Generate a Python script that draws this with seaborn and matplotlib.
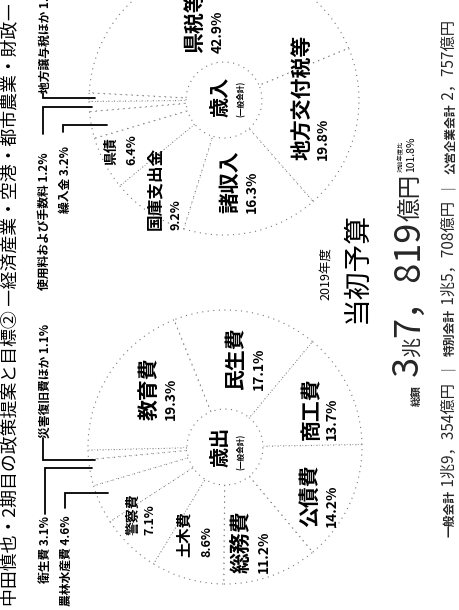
import matplotlib
matplotlib.use("Agg")
import matplotlib.pyplot as plt
import seaborn as sns

# ---------------- data ----------------
title = "中田慎也・2期目の政策提案と目標② ―経済産業・空港・都市農業・財政―"

exp_labels = ["商工費", "民生費", "教育費", "災害復旧費ほか", "衛生費", "農林水産費",
              "警察費", "土木費", "総務費", "公債費"]
exp_values = [13.7, 17.1, 19.3, 1.1, 3.1, 4.6, 7.1, 8.6, 11.2, 14.2]

rev_labels = ["県税等", "地方交付税等", "諸収入", "国庫支出金", "県債", "繰入金",
              "使用料および手数料", "地方譲与税ほか"]
rev_values = [42.9, 19.8, 16.3, 9.2, 6.4, 3.2, 1.2, 1.0]

fiscal_year = "2019年度"
budget_name = "当初予算"
total_cho = "3"
total_oku = "7，819"
yoy_ratio = 101.8
accounts = ["一般会計", "特別会計", "公営企業会計"]
account_amounts = ["1兆9，354億円", "1兆5，708億円", "2，757億円"]

# ---------------- style ----------------
sns.set_theme(style="white")
FAM = ["Noto Sans CJK JP", "DejaVu Sans"]
plt.rcParams["font.family"] = FAM

W, H = 459, 610
fig = plt.figure(figsize=(W / 100, H / 100), dpi=100)
ax = fig.add_axes([0, 0, 1, 1])
ax.set_xlim(0, W)
ax.set_ylim(0, H)
renderer = fig.canvas.get_renderer()


def Y(y):
    return H - y


def T(x, y0, s, size, weight="bold", ha="left", va="center", color="black"):
    """rotated text: reads bottom->top, starting at image y0, centred on x"""
    return ax.text(x, Y(y0), s, rotation=90, rotation_mode="anchor", ha=ha, va=va,
                   fontsize=size, fontweight=weight, color=color, family=FAM)


def chain(xb, y0, pieces, gap=1):
    """pieces laid end to end on a common baseline (image x = xb)"""
    y = Y(y0)
    for s, size, weight, dx in pieces:
        t = ax.text(xb + dx, y, s, rotation=90, rotation_mode="anchor", ha="left",
                    va="baseline", fontsize=size, fontweight=weight, family=FAM)
        bb = t.get_window_extent(renderer)
        y = bb.y1 + gap
    return y


dot = dict(facecolor="white", edgecolor="#777777", linewidth=0.8, linestyle=(0, (1, 4)))

# ---------------- pies ----------------
R, RIN = 135, 38
rev_c = (224, Y(100))
exp_c = (225, Y(447))
ax.pie(rev_values, radius=R, center=rev_c, startangle=177, counterclock=False,
       wedgeprops=dict(width=R - RIN, **dot), frame=True)
ax.pie(exp_values, radius=137, center=exp_c, startangle=1, counterclock=True,
       wedgeprops=dict(width=137 - RIN, **dot), frame=True)
ax.set_xlim(0, W)
ax.set_ylim(0, H)

# ---------------- title ----------------
T(11, 606, title, 12.9, weight="normal")

# ---------------- category labels ----------------
exp_pos = {  # name_x, pct_x, y0, name_size, pct_size
    "教育費": (149, 171, 420, 15, 10),
    "民生費": (236, 259, 390, 15, 10),
    "商工費": (311, 332, 440, 15, 10),
    "公債費": (309, 332, 527, 15, 10),
    "総務費": (241, 264, 573, 15, 10),
    "土木費": (184, 207, 557, 11, 9),
    "警察費": (133, 150, 535, 10, 9),
}
rev_pos = {
    "県税等": (195, 218, 53, 15, 10),
    "地方交付税等": (302, 323, 160, 15, 10),
    "諸収入": (230, 252, 213, 15, 10),
    "国庫支出金": (155, 176, 230, 12, 9),
    "県債": (111, 132, 165, 10, 9),
}
for labs, vals, pos in ((exp_labels, exp_values, exp_pos), (rev_labels, rev_values, rev_pos)):
    for lab, v in zip(labs, vals):
        if lab in pos:
            nx, px, y0, ns, ps = pos[lab]
            T(nx, y0, lab, ns)
            T(px, y0, f"{v:.1f}%", ps)

# leader labels
leaders = {  # text x, text y0, polyline (image coords)
    "災害復旧費ほか": (45, 438, [(43, 438), (43, 460), (95, 460)]),
    "衛生費": (45, 583, [(45, 514), (45, 468), (92, 468)]),
    "農林水産費": (66, 606, [(65, 508), (65, 493), (108, 493)]),
    "使用料および手数料": (44, 290, [(43, 134), (43, 107), (92, 107)]),
    "繰入金": (65, 213, [(63, 132), (63, 125), (107, 125)]),
    "地方譲与税ほか": (45, 93, [(43, 93), (43, 98), (95, 98)]),
}
for labs, vals in ((exp_labels, exp_values), (rev_labels, rev_values)):
    for lab, v in zip(labs, vals):
        if lab in leaders:
            tx, ty, pts = leaders[lab]
            T(tx, ty, f"{lab} {v:.1f}%", 8.5)
            ax.plot([p[0] for p in pts], [Y(p[1]) for p in pts], color="black",
                    lw=1.3, solid_joinstyle="miter")

# centre labels
T(220, 467, "歳出", 14.5)
T(241, 470, "(一般会計)", 5.5)
T(220, 117, "歳入", 14.5)
T(241, 117, "(一般会計)", 5.5)

# ---------------- total block ----------------
T(326, 300, fiscal_year, 9, weight="normal")
T(357, 323, budget_name, 20, weight="normal")
yend = chain(419, 406, [("総額", 7.5, "bold", 1),
                        (" " + total_cho, 26, "normal", 0),
                        ("兆", 14.5, "normal", 0),
                        (total_oku, 26, "normal", 0),
                        ("億円", 17, "normal", 0)], gap=0)
T(401, H - yend - 1, "対前年度比", 4.5, weight="normal")
T(411, H - yend - 1, f"{yoy_ratio:.1f}%", 7.5, weight="normal")

pieces = []
for i, (a, m) in enumerate(zip(accounts, account_amounts)):
    if i:
        pieces.append(("  ｜  ", 10.5, "normal", 0))
    pieces.append((a, 8.5, "bold", 0))
    pieces.append((" " + m, 11, "normal", 0))
chain(454, 537, pieces, gap=0)

ax.set_aspect("auto")
ax.axis("off")
fig.savefig("out.png", dpi=100, facecolor="white")
